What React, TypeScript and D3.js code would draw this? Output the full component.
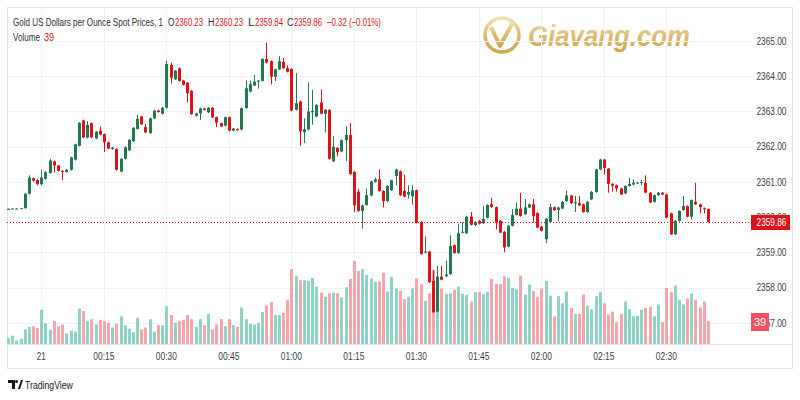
import React, { useEffect, useRef } from 'react';
import * as d3 from 'd3';

// 1-minute candles, 23:52 -> 02:40
const opens = [
  2360.22, 2360.23, 2360.24, 2360.24, 2360.25, 2360.66, 2361.10, 2361.05, 2360.93, 2361.08,
  2361.25, 2361.58, 2361.46, 2361.31, 2361.28, 2361.34, 2361.63, 2362.02, 2362.74, 2362.25,
  2362.66, 2362.23, 2362.45, 2362.35, 2362.12, 2361.93, 2361.93, 2361.29, 2361.65, 2361.89,
  2362.15, 2362.50, 2362.85, 2362.55, 2362.38, 2362.80, 2363.02, 2362.93, 2363.10, 2364.31,
  2363.91, 2364.22, 2363.87, 2363.81, 2363.58, 2362.87, 2362.94, 2363.08, 2362.97, 2363.10,
  2362.83, 2362.66, 2362.59, 2362.83, 2362.45, 2362.49, 2362.48, 2363.09, 2363.56, 2363.73,
  2363.84, 2363.86, 2364.48, 2364.42, 2363.98, 2364.19, 2364.40, 2364.22, 2364.20, 2363.04,
  2363.28, 2362.41, 2362.48, 2362.97, 2362.85, 2363.25, 2362.93, 2363.04, 2361.58, 2361.96,
  2361.86, 2362.18, 2362.33, 2361.28, 2360.72, 2360.17, 2360.34, 2360.61, 2361.00, 2361.07,
  2360.74, 2360.45, 2360.76, 2361.16, 2361.30, 2360.74, 2360.64, 2360.59, 2360.76, 2359.86,
  2358.99, 2359.02, 2358.19, 2357.32, 2358.31, 2358.32, 2358.38, 2359.20, 2358.98, 2359.56,
  2359.54, 2360.01, 2359.77, 2359.89, 2359.82, 2359.98, 2360.36, 2360.28, 2359.89, 2359.58,
  2359.16, 2359.75, 2360.06, 2360.24, 2360.08, 2360.27, 2360.36, 2360.11, 2359.73, 2359.37,
  2359.86, 2360.28, 2360.20, 2360.24, 2360.45, 2360.61, 2360.40, 2360.39, 2360.36, 2360.14,
  2360.50, 2360.71, 2361.35, 2361.63, 2361.37, 2360.94, 2360.90, 2360.81, 2360.67, 2360.88,
  2360.92, 2360.96, 2360.97, 2360.97, 2360.69, 2360.43, 2360.62, 2360.69, 2360.64, 2360.10,
  2359.51, 2359.89, 2360.20, 2360.31, 2360.01, 2360.43, 2360.36, 2360.25, 2360.23,
];
const highs = [
  2360.24, 2360.24, 2360.25, 2360.26, 2360.67, 2361.18, 2361.12, 2361.07, 2361.34, 2361.30,
  2361.65, 2361.60, 2361.48, 2361.33, 2361.36, 2361.71, 2362.08, 2362.69, 2362.76, 2362.72,
  2362.68, 2362.44, 2362.57, 2362.37, 2362.14, 2361.99, 2361.95, 2361.67, 2362.00, 2362.21,
  2362.55, 2362.90, 2362.87, 2362.64, 2362.82, 2363.04, 2363.04, 2363.12, 2364.43, 2364.38,
  2364.17, 2364.24, 2363.89, 2363.83, 2363.60, 2362.96, 2363.10, 2363.10, 2363.12, 2363.12,
  2362.85, 2362.68, 2362.85, 2362.85, 2362.53, 2362.52, 2363.11, 2363.87, 2363.87, 2364.03,
  2363.89, 2364.50, 2364.94, 2364.44, 2364.21, 2364.56, 2364.51, 2364.30, 2364.22, 2364.08,
  2363.30, 2362.80, 2363.82, 2363.61, 2363.20, 2363.62, 2363.06, 2363.06, 2362.29, 2361.98,
  2362.20, 2362.58, 2362.66, 2361.30, 2360.80, 2360.35, 2360.80, 2361.03, 2361.12, 2361.35,
  2360.76, 2360.90, 2361.06, 2361.37, 2361.32, 2361.20, 2360.90, 2360.90, 2360.78, 2359.88,
  2359.45, 2359.04, 2358.50, 2358.62, 2358.62, 2358.76, 2359.48, 2359.22, 2359.80, 2359.85,
  2360.03, 2360.14, 2359.88, 2359.91, 2360.31, 2360.36, 2360.55, 2360.30, 2359.91, 2359.60,
  2359.77, 2360.22, 2360.41, 2360.69, 2360.51, 2360.38, 2360.51, 2360.13, 2359.75, 2359.97,
  2360.38, 2360.30, 2360.29, 2360.45, 2360.75, 2360.63, 2360.60, 2360.60, 2360.38, 2360.45,
  2360.74, 2361.37, 2361.65, 2361.65, 2361.39, 2360.96, 2360.92, 2360.83, 2360.90, 2361.11,
  2361.06, 2361.00, 2361.05, 2361.18, 2360.71, 2360.64, 2360.71, 2360.71, 2360.66, 2360.12,
  2359.91, 2360.19, 2360.60, 2360.33, 2360.50, 2360.97, 2360.38, 2360.27, 2360.23,
];
const lows = [
  2360.21, 2360.22, 2360.22, 2360.23, 2360.24, 2360.64, 2361.01, 2360.90, 2360.90, 2361.06,
  2361.23, 2361.26, 2361.29, 2361.05, 2361.26, 2361.32, 2361.60, 2362.00, 2362.24, 2362.23,
  2362.24, 2362.21, 2362.32, 2361.84, 2361.92, 2361.91, 2361.32, 2361.27, 2361.63, 2361.87,
  2362.13, 2362.48, 2362.61, 2362.38, 2362.36, 2362.78, 2362.96, 2362.91, 2363.08, 2363.79,
  2363.89, 2363.84, 2363.73, 2363.25, 2362.90, 2362.85, 2362.75, 2363.02, 2362.95, 2362.81,
  2362.55, 2362.55, 2362.57, 2362.43, 2362.43, 2362.45, 2362.46, 2363.07, 2363.54, 2363.71,
  2363.64, 2363.84, 2364.36, 2363.76, 2363.86, 2364.17, 2364.20, 2364.10, 2363.00, 2363.02,
  2362.02, 2362.10, 2362.46, 2362.62, 2362.83, 2362.91, 2362.40, 2361.63, 2361.56, 2361.72,
  2361.84, 2361.59, 2361.20, 2360.14, 2360.15, 2359.67, 2360.32, 2360.59, 2360.98, 2360.72,
  2360.27, 2360.43, 2360.74, 2360.90, 2360.60, 2360.56, 2360.52, 2360.35, 2359.82, 2358.93,
  2358.97, 2358.13, 2357.28, 2357.30, 2358.20, 2358.30, 2358.36, 2358.96, 2358.96, 2359.54,
  2359.52, 2359.76, 2359.74, 2359.79, 2359.80, 2359.96, 2360.26, 2359.65, 2359.54, 2359.00,
  2359.14, 2359.73, 2360.04, 2360.01, 2360.06, 2360.25, 2359.85, 2359.68, 2359.59, 2359.26,
  2359.84, 2360.17, 2359.89, 2360.22, 2360.43, 2360.37, 2360.14, 2360.31, 2360.12, 2360.12,
  2360.48, 2360.69, 2361.33, 2361.20, 2360.69, 2360.72, 2360.72, 2360.62, 2360.65, 2360.86,
  2360.90, 2360.94, 2360.90, 2360.67, 2360.39, 2360.41, 2360.60, 2360.62, 2359.96, 2359.49,
  2359.49, 2359.87, 2360.18, 2359.99, 2359.93, 2360.34, 2360.10, 2360.10, 2359.84,
];
const closes = [
  2360.23, 2360.24, 2360.24, 2360.25, 2360.66, 2361.12, 2361.03, 2360.93, 2361.12, 2361.27,
  2361.60, 2361.46, 2361.31, 2361.29, 2361.34, 2361.69, 2362.06, 2362.67, 2362.26, 2362.61,
  2362.26, 2362.42, 2362.34, 2362.12, 2361.94, 2361.97, 2361.34, 2361.65, 2361.98, 2362.19,
  2362.53, 2362.78, 2362.63, 2362.40, 2362.80, 2363.02, 2362.98, 2363.10, 2364.34, 2363.95,
  2364.15, 2363.86, 2363.75, 2363.51, 2362.92, 2362.94, 2363.08, 2363.04, 2363.10, 2362.83,
  2362.68, 2362.57, 2362.83, 2362.45, 2362.51, 2362.48, 2363.09, 2363.65, 2363.77, 2363.84,
  2363.87, 2364.48, 2364.38, 2363.98, 2364.19, 2364.42, 2364.22, 2364.12, 2363.02, 2363.23,
  2362.43, 2362.49, 2362.99, 2363.01, 2363.18, 2362.93, 2363.04, 2361.65, 2361.99, 2361.84,
  2362.18, 2362.33, 2361.22, 2360.33, 2360.17, 2360.33, 2360.62, 2361.01, 2361.07, 2360.74,
  2360.45, 2360.88, 2361.04, 2361.35, 2360.62, 2360.58, 2360.71, 2360.76, 2359.84, 2358.95,
  2359.02, 2358.15, 2357.30, 2358.31, 2358.22, 2358.37, 2359.18, 2358.98, 2359.54, 2359.58,
  2360.01, 2359.78, 2359.86, 2359.81, 2359.94, 2360.34, 2360.28, 2359.84, 2359.56, 2359.14,
  2359.75, 2360.06, 2360.24, 2360.03, 2360.27, 2360.36, 2360.03, 2359.70, 2359.61, 2359.95,
  2360.28, 2360.19, 2360.27, 2360.43, 2360.61, 2360.39, 2360.42, 2360.33, 2360.14, 2360.43,
  2360.71, 2361.35, 2361.63, 2361.39, 2360.94, 2360.89, 2360.81, 2360.64, 2360.88, 2360.94,
  2360.97, 2360.98, 2360.99, 2360.69, 2360.41, 2360.62, 2360.69, 2360.64, 2359.98, 2359.51,
  2359.89, 2360.17, 2360.31, 2360.01, 2360.48, 2360.36, 2360.28, 2360.22, 2359.86,
];
const volumes = [
  10, 14, 6, 9, 25, 29, 30, 27, 58, 35, 24, 39, 30, 33, 18, 23, 21, 60, 56, 39,
  42, 33, 41, 39, 36, 28, 34, 47, 32, 26, 20, 44, 25, 28, 42, 21, 32, 32, 64, 49,
  36, 39, 41, 49, 42, 29, 42, 32, 51, 25, 33, 42, 30, 42, 32, 29, 62, 42, 34, 33,
  36, 54, 65, 71, 49, 49, 53, 75, 127, 115, 108, 108, 107, 112, 97, 87, 80, 86, 87, 86,
  79, 96, 110, 141, 124, 127, 117, 111, 105, 106, 121, 89, 114, 94, 90, 76, 80, 94, 111, 101,
  73, 86, 125, 111, 94, 85, 86, 92, 97, 85, 83, 72, 88, 88, 84, 88, 110, 102, 102, 115,
  112, 95, 93, 116, 84, 101, 90, 80, 94, 107, 82, 47, 81, 69, 89, 61, 51, 51, 84, 65,
  59, 81, 88, 69, 50, 55, 37, 51, 72, 59, 47, 48, 58, 61, 63, 47, 67, 37, 95, 88,
  99, 75, 67, 77, 86, 75, 62, 72, 39,
];
const priceTicks = [2357, 2358, 2359, 2360, 2361, 2362, 2363, 2364, 2365];
const lastPrice = 2359.86;
const lastVolume = 39;
const headerTitle = 'Gold US Dollars per Ounce Spot Prices, 1';
const headerValues = [
  { k: 'O', v: '2360.23', x: 168 },
  { k: 'H', v: '2360.23', x: 208 },
  { k: 'L', v: '2359.84', x: 248 },
  { k: 'C', v: '2359.86', x: 287 },
];
const headerChange = '\u22120.32 (\u22120.01%)';

const UP = '#22794f';
const DOWN = '#dc1319';
const UP_VOL = '#8fd3c6';
const DOWN_VOL = '#f5a6ac';
const FONT = '"Liberation Sans", Arial, sans-serif';

// squeeze a text horizontally to the given width (TradingView's font is narrow)
function fit(sel: d3.Selection<SVGTextElement, any, any, any>, x: number, y: number, w: number) {
  const n = sel.node() as SVGTextElement;
  const len = n.getComputedTextLength();
  const s = len > 0 ? w / len : 1;
  sel.attr('x', 0).attr('y', 0).attr('transform', `translate(${x},${y}) scale(${s},1)`);
  return sel;
}

export default function App() {
  const ref = useRef<SVGSVGElement>(null);

  useEffect(() => {
    document.body.style.margin = '0';
    const svg = d3.select(ref.current);
    svg.selectAll('*').remove();

    const start = new Date(2024, 4, 20, 23, 52);
    const times = opens.map((_, i) => d3.timeMinute.offset(start, i));

    const plot = { left: 7, right: 751, top: 8, bottom: 344 };

    const x = d3.scaleTime()
      .domain([start, times[times.length - 1]])
      .range([8, 708]);
    const y = d3.scaleLinear()
      .domain([2357, 2365])
      .range([322.75, 40.75]);
    const yVol = d3.scaleLinear()
      .domain([0, 100])
      .range([344, 285]);

    // watermark
    const defs = svg.append('defs');
    const grad = defs.append('linearGradient').attr('id', 'gold').attr('x1', 0).attr('y1', 0).attr('x2', 0).attr('y2', 1);
    grad.append('stop').attr('offset', '0%').attr('stop-color', '#f0dea6');
    grad.append('stop').attr('offset', '55%').attr('stop-color', '#d6b25c');
    grad.append('stop').attr('offset', '100%').attr('stop-color', '#c99d3f');

    const wm = svg.append('g').attr('opacity', 0.9);
    wm.append('circle').attr('cx', 502).attr('cy', 35).attr('r', 17)
      .attr('fill', 'none').attr('stroke', 'url(#gold)').attr('stroke-width', 3.5);
    wm.append('path')
      .attr('d', 'M491,27 L500,46 L513,22')
      .attr('fill', 'none').attr('stroke', 'url(#gold)').attr('stroke-width', 4).attr('stroke-linejoin', 'round');
    fit(wm.append('text')
      .attr('font-family', FONT).attr('font-size', 30).attr('font-weight', 'bold').attr('font-style', 'italic')
      .attr('fill', 'url(#gold)')
      .text('Giavang.com'), 528, 46, 162);

    // grid
    const timeTicks = x.ticks(d3.timeMinute.every(15) as d3.TimeInterval);
    svg.append('g')
      .selectAll('line')
      .data(timeTicks)
      .enter()
        .append('line')
          .attr('x1', d => Math.round(x(d)) + 0.5)
          .attr('x2', d => Math.round(x(d)) + 0.5)
          .attr('y1', plot.top)
          .attr('y2', plot.bottom)
          .attr('stroke', '#eef1f6');
    svg.append('g')
      .selectAll('line')
      .data(priceTicks)
      .enter()
        .append('line')
          .attr('x1', plot.left)
          .attr('x2', plot.right)
          .attr('y1', d => Math.round(y(d)) + 0.5)
          .attr('y2', d => Math.round(y(d)) + 0.5)
          .attr('stroke', '#eef1f6');

    // frame
    svg.append('rect')
      .attr('x', 7.5).attr('y', 7.5).attr('width', 785).attr('height', 361)
      .attr('fill', 'none').attr('stroke', '#e0e3eb');
    svg.append('line')
      .attr('x1', 7).attr('x2', 793).attr('y1', 344.5).attr('y2', 344.5)
      .attr('stroke', '#e0e3eb');

    // volume
    svg.append('g')
      .selectAll('rect')
      .data(volumes)
      .enter()
        .append('rect')
          .attr('x', (d, i) => Math.round(x(times[i])) - 1)
          .attr('width', 3)
          .attr('y', d => yVol(d))
          .attr('height', d => yVol(0) - yVol(d))
          .attr('fill', (d, i) => (closes[i] >= opens[i] ? UP_VOL : DOWN_VOL));

    // last price line
    svg.append('line')
      .attr('x1', plot.left).attr('x2', plot.right)
      .attr('y1', Math.round(y(lastPrice)) + 0.5).attr('y2', Math.round(y(lastPrice)) + 0.5)
      .attr('stroke', DOWN).attr('stroke-width', 1).attr('stroke-dasharray', '1,2');

    // candles
    const candles = svg.append('g')
      .selectAll('g')
      .data(opens)
      .enter()
        .append('g')
          .attr('fill', (d, i) => (closes[i] >= opens[i] ? UP : DOWN))
          .attr('stroke', (d, i) => (closes[i] >= opens[i] ? UP : DOWN));
    candles.append('line')
      .attr('x1', (d, i) => Math.round(x(times[i])) + 0.5)
      .attr('x2', (d, i) => Math.round(x(times[i])) + 0.5)
      .attr('y1', (d, i) => y(highs[i]))
      .attr('y2', (d, i) => y(lows[i]));
    candles.append('rect')
      .attr('stroke', 'none')
      .attr('x', (d, i) => Math.round(x(times[i])) - 1)
      .attr('width', 3)
      .attr('y', (d, i) => y(Math.max(opens[i], closes[i])))
      .attr('height', (d, i) => Math.max(1, Math.abs(y(opens[i]) - y(closes[i]))));

    // price axis
    const pAxis = svg.append('g').attr('font-family', FONT).attr('font-size', 11).attr('fill', '#3a3e48');
    priceTicks.forEach(p => {
      fit(pAxis.append('text').attr('dy', '0.35em').text(d3.format('.2f')(p)), 756.5, y(p), 30);
    });

    const ly = Math.round(y(lastPrice));
    svg.append('rect').attr('x', 751).attr('y', ly - 7).attr('width', 39).attr('height', 15).attr('fill', DOWN);
    fit(svg.append('text')
      .attr('dy', '0.35em').attr('text-anchor', 'middle')
      .attr('font-family', FONT).attr('font-size', 11).attr('fill', '#fff')
      .text(d3.format('.2f')(lastPrice)), 771.5, ly + 0.5, 30);

    const vy = Math.round(yVol(lastVolume));
    svg.append('rect').attr('x', 751).attr('y', vy - 8).attr('width', 18).attr('height', 18).attr('fill', '#f0555f');
    svg.append('text')
      .attr('x', 760).attr('y', vy + 1).attr('dy', '0.35em').attr('text-anchor', 'middle')
      .attr('font-family', FONT).attr('font-size', 11).attr('fill', '#fff')
      .text(String(lastVolume));

    // time axis
    const fmt = (d: Date) => (d.getHours() === 0 && d.getMinutes() === 0 ? String(d.getDate()) : d3.timeFormat('%H:%M')(d));
    const tAxis = svg.append('g').attr('font-family', FONT).attr('font-size', 11).attr('fill', '#3a3e48')
      .attr('text-anchor', 'middle');
    timeTicks.forEach(d => {
      const t = fmt(d);
      const s = tAxis.append('text').text(t);
      fit(s, x(d), 360, t.length > 2 ? 21 : 9);
    });

    // header legend
    const hdr = svg.append('g').attr('font-family', FONT).attr('font-size', 11);
    fit(hdr.append('text').attr('fill', '#2a2e39').text(headerTitle), 13, 26, 150);
    headerValues.forEach(h => {
      fit(hdr.append('text').attr('fill', '#2a2e39').text(h.k), h.x, 26, 6.5);
      fit(hdr.append('text').attr('fill', DOWN).text(h.v), h.x + 7, 26, 28);
    });
    fit(hdr.append('text').attr('fill', DOWN).text(headerChange), 327, 26, 54);
    fit(hdr.append('text').attr('fill', '#2a2e39').text('Volume'), 13, 41, 27);
    fit(hdr.append('text').attr('fill', DOWN).text(String(lastVolume)), 44, 41, 10);

    // TradingView mark
    const tv = svg.append('g').attr('fill', '#131722');
    tv.append('path').attr('d', 'M8,380 h7 v9 h-3 v-6 h-4 z');
    tv.append('circle').attr('cx', 16.5).attr('cy', 381.5).attr('r', 1.5);
    tv.append('path').attr('d', 'M18,389 l3,-9 h2 l-3,9 z');
    fit(tv.append('text')
      .attr('font-family', FONT).attr('font-size', 11).attr('fill', '#131722')
      .text('TradingView'), 25, 389, 48);
  }, []);

  return <svg ref={ref} width={800} height={400} style={{ display: 'block', background: '#fff' }} />;
}
